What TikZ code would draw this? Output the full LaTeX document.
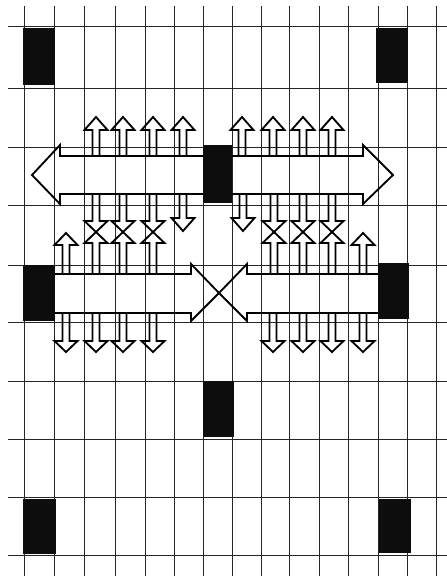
\documentclass[tikz,border=0pt]{standalone}
\usepackage{tikz}

\tikzset{
    gridline/.style={black!85, line width=0.45pt},
    arrowline/.style={black, line width=1.05pt, line join=miter},
    block/.style={fill=black!95, draw=none}
}

% small hollow arrow: x, foot, head base, tip
\newcommand{\smallarrow}[4]{%
    \draw[arrowline] (#1-3.5,#2) -- (#1-3.5,#3) -- (#1-11.5,#3) -- (#1,#4)
        -- (#1+11.5,#3) -- (#1+3.5,#3) -- (#1+3.5,#2);%
}

\begin{document}
\begin{tikzpicture}[x=0.02cm, y=-0.02cm]
    \fill[white] (0,0) rectangle (447,576);
    \useasboundingbox (0,0) rectangle (447,576);

    % Grid
    \foreach \x in {24,54,84,115,145,174,203,232,261,289,319,348,378,407,436} {
        \draw[gridline] (\x,6) -- (\x,576);
    }
    \foreach \y in {26,88,147,205,265,322,381,439,497,555} {
        \draw[gridline] (8,\y) -- (447,\y);
    }

    % Black blocks
    \fill[block] (23,28) rectangle (55,85);
    \fill[block] (376,28) rectangle (408,83);
    \fill[block] (203,145) rectangle (232,203);
    \fill[block] (23,265) rectangle (55,321);
    \fill[block] (378,263) rectangle (409,319);
    \fill[block] (203,381) rectangle (234,437);
    \fill[block] (23,499) rectangle (56,554);
    \fill[block] (379,499) rectangle (411,553);

    % Upper double arrow
    \draw[arrowline] (203,156) -- (60,156) -- (60,145) -- (32,175) -- (60,204) -- (60,194) -- (203,194);
    \draw[arrowline] (232,156) -- (363,156) -- (363,145) -- (393,175) -- (363,204) -- (363,194) -- (232,194);

    % Small arrows above upper arrow
    \foreach \x in {96,123,153,183,242,273,303,332} {
        \smallarrow{\x}{156}{130}{117}
    }
    % Small arrows below upper arrow
    \foreach \x in {96,123,153,274,303,332} {
        \smallarrow{\x}{194}{221}{232}
    }
    \smallarrow{183}{194}{218}{231}
    \smallarrow{243}{194}{218}{231}

    % Lower crossing arrows
    \draw[arrowline] (55,274) -- (191,274) -- (191,264) -- (219,293) -- (191,321) -- (191,313) -- (55,313);
    \draw[arrowline] (378,274) -- (247,274) -- (247,264) -- (219,293) -- (247,321) -- (247,313) -- (378,313);

    % Small arrows above lower arrows
    \foreach \x in {96,123,153,274,303,332} {
        \smallarrow{\x}{274}{243}{232}
    }
    \smallarrow{66}{274}{245}{233}
    \smallarrow{363}{274}{245}{233}
    % Small arrows below lower arrows
    \foreach \x in {66,96,123,153,273,303,332,363} {
        \smallarrow{\x}{313}{341}{352}
    }
\end{tikzpicture}
\end{document}
